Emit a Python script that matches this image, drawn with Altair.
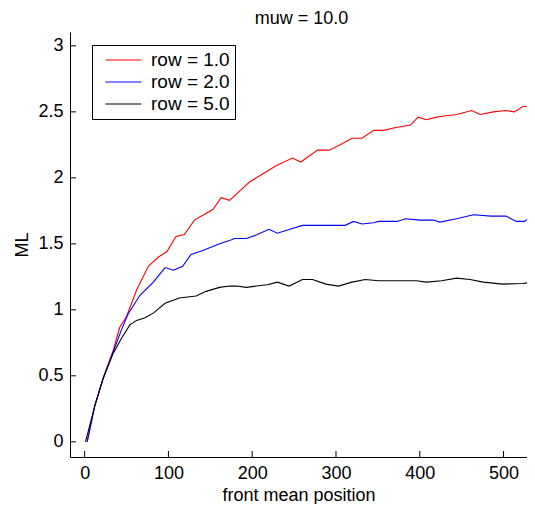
import altair as alt
import pandas as pd

series_names = ["row = 1.0", "row = 2.0", "row = 5.0"]
series_colors = ["#ff0000", "#0000ff", "#000000"]

red_x = [3, 12, 22, 34, 42, 50, 62, 76, 88, 98, 109, 119, 131, 142, 153, 163, 173, 185, 197, 210,
         228, 248, 258, 278, 292, 305, 319, 331, 345, 357, 370, 389, 398, 408, 420, 432, 444, 462,
         472, 488, 503, 513, 523, 535]
red_y = [0, 0.27, 0.48, 0.69, 0.87, 0.95, 1.15, 1.33, 1.40, 1.44, 1.555, 1.57, 1.68, 1.72, 1.76,
         1.85, 1.83, 1.90, 1.97, 2.02, 2.09, 2.15, 2.12, 2.21, 2.21, 2.25, 2.30, 2.30, 2.36, 2.36,
         2.38, 2.40, 2.46, 2.44, 2.46, 2.47, 2.48, 2.51, 2.48, 2.50, 2.51, 2.50, 2.54, 2.54]

blue_x = [3, 12, 22, 34, 44, 52, 66, 82, 96, 106, 117, 127, 141, 153, 161, 173, 179, 193, 206, 220,
          230, 245, 260, 285, 311, 321, 331, 345, 351, 373, 383, 400, 416, 424, 444, 464, 485, 503,
          515, 525, 535]
blue_y = [0, 0.27, 0.48, 0.68, 0.85, 0.97, 1.11, 1.21, 1.32, 1.30, 1.33, 1.42, 1.45, 1.48, 1.50,
          1.525, 1.54, 1.54, 1.57, 1.61, 1.58, 1.61, 1.64, 1.64, 1.64, 1.67, 1.65, 1.66, 1.67, 1.67,
          1.69, 1.68, 1.68, 1.665, 1.69, 1.72, 1.71, 1.71, 1.67, 1.67, 1.72]

black_x = [1, 12, 22, 34, 44, 54, 62, 72, 82, 96, 113, 133, 145, 161, 173, 181, 193, 205, 218, 230,
           244, 260, 272, 288, 303, 319, 335, 351, 370, 396, 408, 426, 444, 460, 476, 499, 523, 535]
black_y = [0, 0.27, 0.48, 0.67, 0.785, 0.886, 0.92, 0.94, 0.975, 1.05, 1.09, 1.105, 1.14, 1.17,
           1.18, 1.18, 1.17, 1.18, 1.19, 1.21, 1.18, 1.23, 1.23, 1.195, 1.18, 1.21, 1.23, 1.22,
           1.22, 1.22, 1.21, 1.22, 1.24, 1.23, 1.21, 1.195, 1.20, 1.21]

x_ticks = [0, 100, 200, 300, 400, 500]
y_ticks = [0, 0.5, 1, 1.5, 2, 2.5, 3]

rows = []
for name, xs, ys in zip(series_names, [red_x, blue_x, black_x], [red_y, blue_y, black_y]):
    for a, b in zip(xs, ys):
        rows.append({"pos": a, "ML": b, "series": name})
df = pd.DataFrame(rows)

FONT = "Liberation Sans"
W, H = 457, 425

x_scale = alt.Scale(domain=[-17.5, 528.0], nice=False, zero=False)
y_scale = alt.Scale(domain=[-0.115, 3.105], nice=False, zero=False)
x_axis = alt.Axis(title="front mean position", values=x_ticks, format="d",
                  labelBaseline="alphabetic", labelPadding=21,
                  titleBaseline="alphabetic", titleY=43)
y_axis = alt.Axis(title="ML", values=y_ticks, format="~g",
                  labelPadding=7, titleX=-48, titleBaseline="middle")

lines = alt.Chart(df).mark_line(strokeWidth=1.1, clip=True).encode(
    x=alt.X("pos:Q", scale=x_scale, axis=x_axis),
    y=alt.Y("ML:Q", scale=y_scale, axis=y_axis),
    color=alt.Color("series:N",
                    scale=alt.Scale(domain=series_names, range=series_colors),
                    legend=alt.Legend(title=None, orient="none", legendX=22, legendY=13,
                                      strokeColor="black", fillColor="white", padding=5,
                                      symbolType="M-0.18,0H3.82", symbolSize=324,
                                      symbolStrokeWidth=1.1, symbolOpacity=1,
                                      labelFontSize=19, labelFont=FONT,
                                      labelColor="black", labelOffset=34, rowPadding=2)),
)

ytick_df = pd.DataFrame({"v": y_ticks})
xtick_df = pd.DataFrame({"v": x_ticks})

yticks = alt.Chart(ytick_df).mark_rule(color="black", strokeWidth=1).encode(
    y=alt.Y("v:Q", scale=y_scale, axis=y_axis), x=alt.value(0), x2=alt.value(6))
xticks = alt.Chart(xtick_df).mark_rule(color="black", strokeWidth=1).encode(
    x=alt.X("v:Q", scale=x_scale, axis=x_axis), y=alt.value(H), y2=alt.value(H - 6))

chart = alt.layer(lines, yticks, xticks).properties(
    width=W, height=H,
    title=alt.TitleParams("muw = 10.0", fontSize=18, fontWeight="normal", font=FONT,
                          color="black", anchor="middle", offset=4, dx=3),
    autosize=alt.AutoSizeParams(type="none"),
    padding={"left": 62, "top": 24, "right": 0, "bottom": 47},
).configure_axis(
    domainColor="black", domainWidth=1, ticks=False, grid=False,
    labelFontSize=18, labelFont=FONT, labelColor="black",
    titleFontSize=18, titleFont=FONT, titleColor="black", titleFontWeight="normal",
).configure_view(stroke=None)

chart.save("out.html", embed_options={"renderer": "svg", "actions": False})
